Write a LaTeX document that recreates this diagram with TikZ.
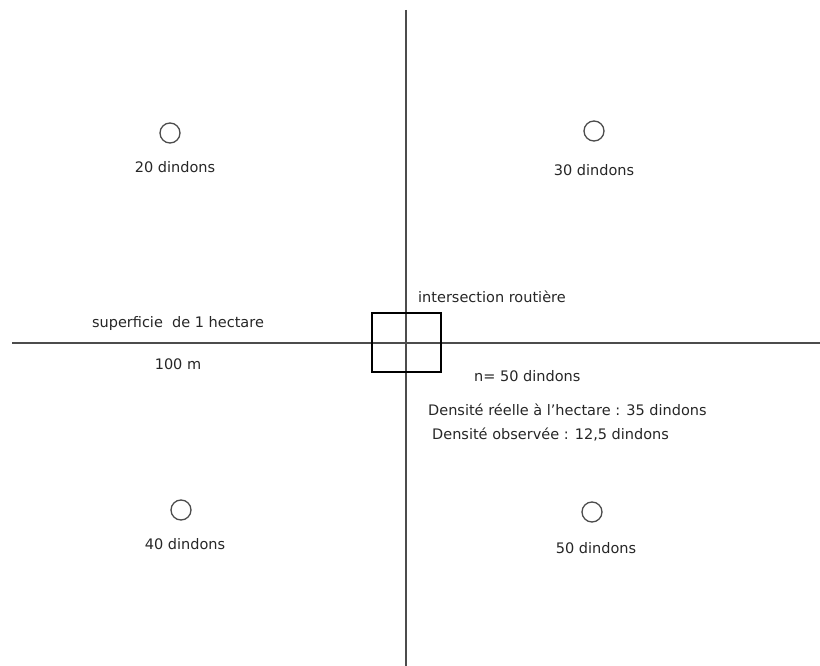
\documentclass[tikz,border=0pt]{standalone}
\usepackage{fontspec}
\setmainfont{DejaVu Sans}
\begin{document}
\begin{tikzpicture}[x=1pt,y=-1pt,
  road/.style={draw=black!70,line width=1.6pt},
  lbl/.style={font=\fontsize{14.5}{16}\selectfont,inner sep=0pt,text=black!85},
  turkey/.style={draw=black!70,line width=1.3pt,circle,minimum size=20pt,inner sep=0pt}]
\useasboundingbox (0,0) rectangle (820,666);
\coordinate (vt) at (406,10);
\coordinate (vb) at (406,666);
\coordinate (hl) at (12,343);
\coordinate (hr) at (820,343);
\draw[road] (vt) -- (vb);
\draw[road] (hl) -- (hr);
\node[draw=black,line width=1.2pt,minimum width=69pt,minimum height=59pt,inner sep=0pt] (sq) at (406.5,342.5) {};
\node[turkey] (c1) at (170,133) {};
\node[turkey] (c2) at (594,131) {};
\node[turkey] (c3) at (181,510) {};
\node[turkey] (c4) at (592,512) {};
\node[lbl] (t1) at (175,167) {20 dindons};
\node[lbl] (t2) at (594,170) {30 dindons};
\node[lbl] (t3) at (185,544) {40 dindons};
\node[lbl] (t4) at (596,548) {50 dindons};
\node[lbl] (sup) at (178,323) {superficie\ \ de 1 hectare};
\node[lbl] (m) at (178,364) {100 m};
\node[lbl,anchor=west] (inter) at (418,297) {intersection routière};
\node[lbl,anchor=west] (n) at (474,376) {n= 50 dindons};
\node[lbl,anchor=west] (d1) at (428,410) {Densité réelle à l'hectare : 35 dindons};
\node[lbl,anchor=west] (d2) at (432,435) {Densité observée : 12,5 dindons};
\end{tikzpicture}
\end{document}
